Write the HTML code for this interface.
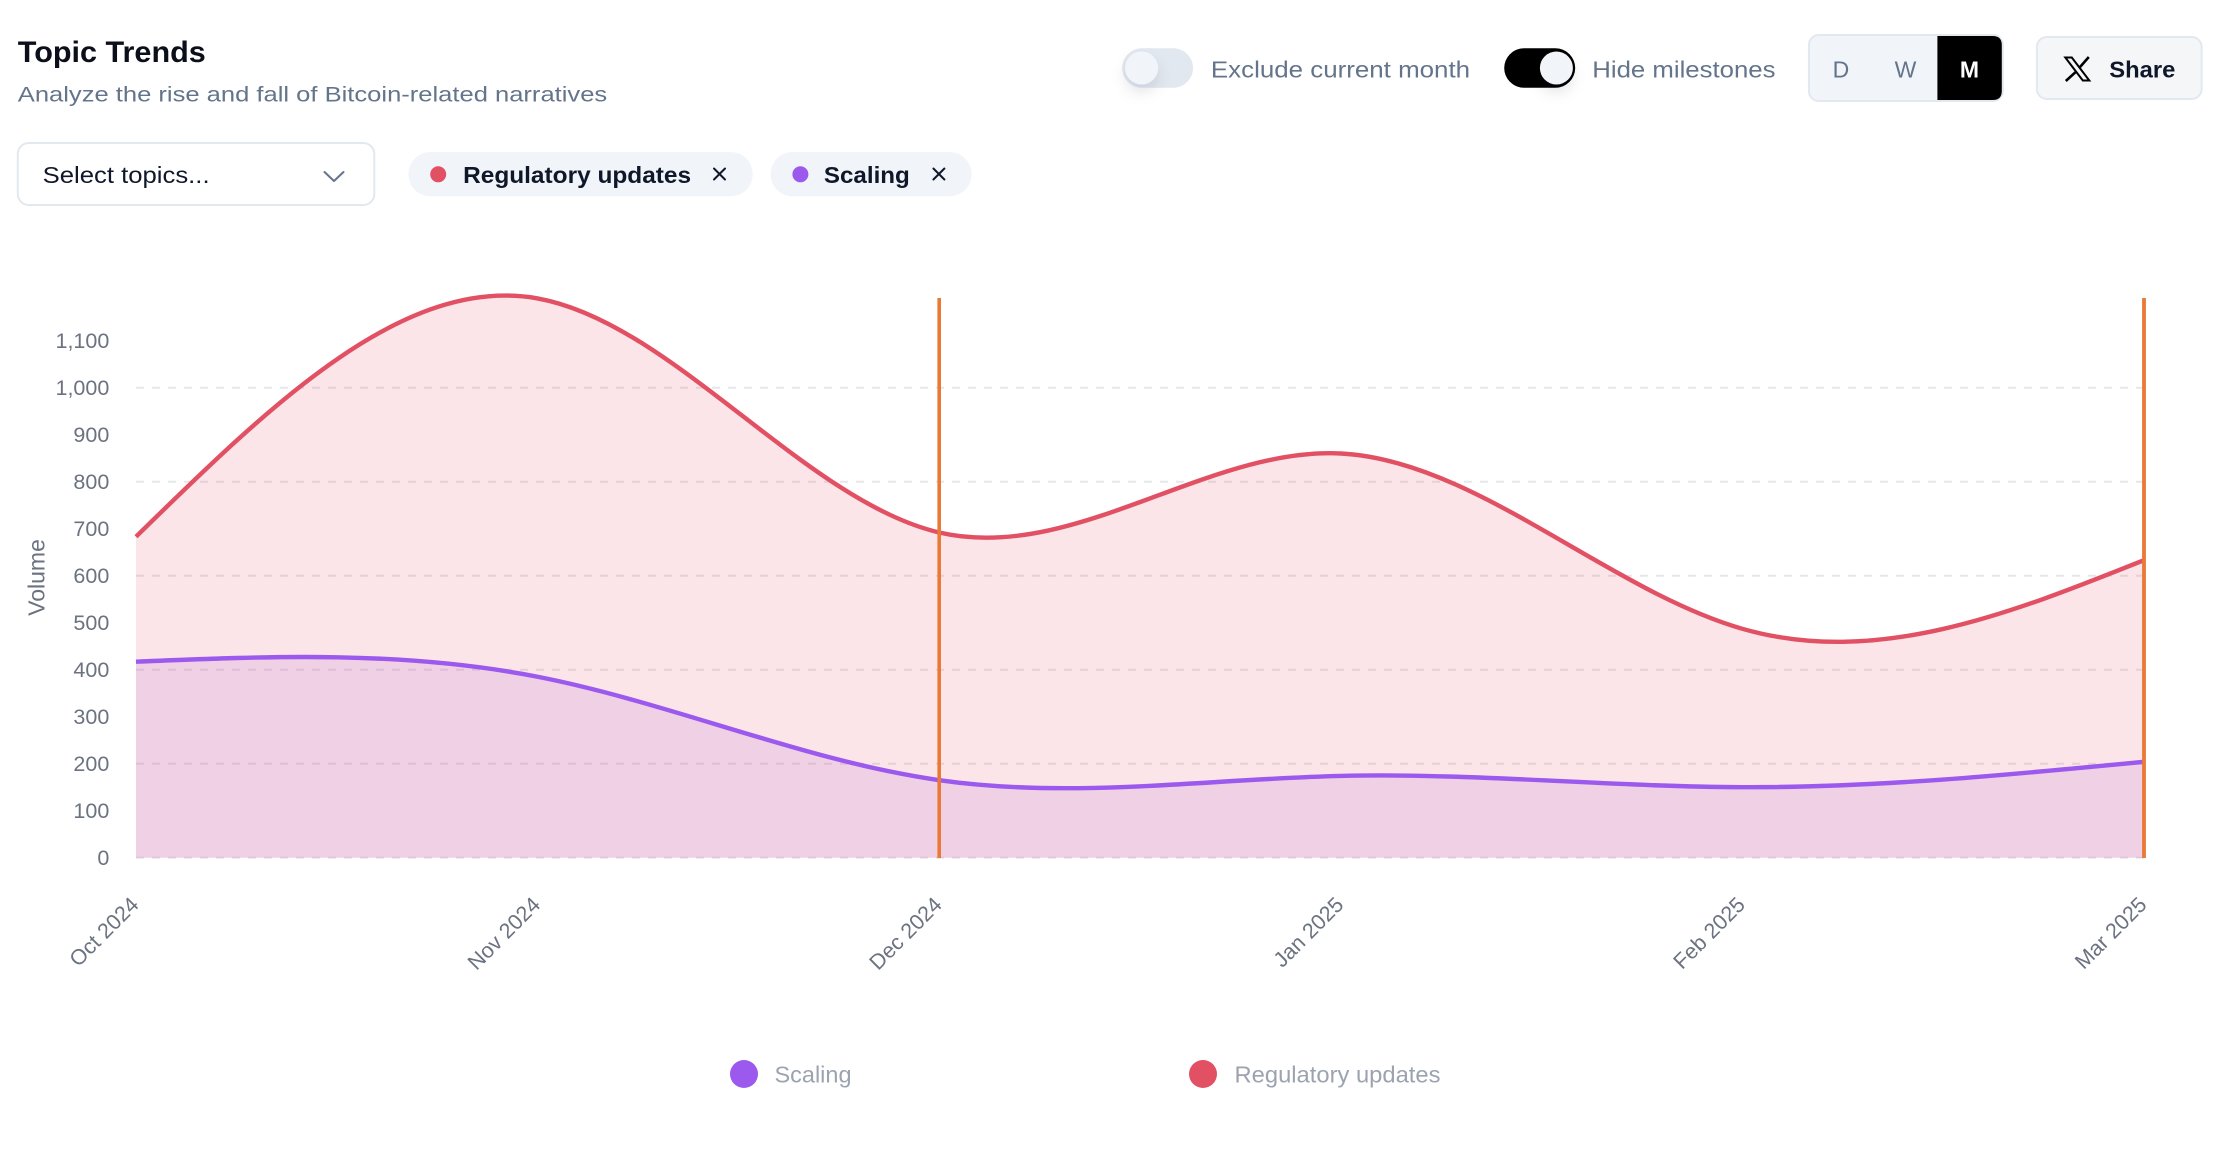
<!DOCTYPE html>
<html>
<head>
<meta charset="utf-8">
<style>
  html, body { margin: 0; padding: 0; background: #ffffff; }
  body { width: 2230px; height: 1160px; overflow: hidden; }
  svg { display: block; font-family: "Liberation Sans", Arial, sans-serif; }
</style>
</head>
<body>
<svg width="2230" height="1160" viewBox="0 0 2230 1160" xmlns="http://www.w3.org/2000/svg">
  <defs>
    <filter id="knobShadow" x="-100%" y="-100%" width="300%" height="300%">
      <feDropShadow dx="0" dy="8" stdDeviation="7" flood-color="#0f172a" flood-opacity="0.10"/>
    </filter>
  </defs>

  <!-- Header -->
  <text x="17.8" y="62" font-size="30" font-weight="700" fill="#0b0f19" textLength="188" lengthAdjust="spacingAndGlyphs">Topic Trends</text>
  <text x="17.8" y="101.7" font-size="21.5" fill="#64748b" textLength="589.4" lengthAdjust="spacingAndGlyphs">Analyze the rise and fall of Bitcoin-related narratives</text>

  <!-- Select -->
  <rect x="17.8" y="143" width="356.5" height="62" rx="11" fill="#ffffff" stroke="#e2e8f0" stroke-width="2"/>
  <text x="42.6" y="183" font-size="23" fill="#0f172a" textLength="167" lengthAdjust="spacingAndGlyphs">Select topics...</text>
  <polyline points="324.5,172 334,181 343.5,172" fill="none" stroke="#64748b" stroke-width="2" stroke-linecap="round" stroke-linejoin="round"/>

  <!-- Chip 1 -->
  <rect x="408.4" y="152" width="344.4" height="44.3" rx="22" fill="#f1f5f9"/>
  <circle cx="438.2" cy="174.3" r="8" fill="#e25063"/>
  <text x="463.1" y="183" font-size="23" font-weight="700" fill="#0f172a" textLength="228" lengthAdjust="spacingAndGlyphs">Regulatory updates</text>
  <path d="M714,168.5 L725,179.5 M725,168.5 L714,179.5" stroke="#0f172a" stroke-width="2" stroke-linecap="round"/>

  <!-- Chip 2 -->
  <rect x="770.6" y="152" width="201" height="44.3" rx="22" fill="#f1f5f9"/>
  <circle cx="800.4" cy="174.3" r="8" fill="#9b59ee"/>
  <text x="823.9" y="183" font-size="23" font-weight="700" fill="#0f172a" textLength="85.9" lengthAdjust="spacingAndGlyphs">Scaling</text>
  <path d="M933.4,168.5 L944.4,179.5 M944.4,168.5 L933.4,179.5" stroke="#0f172a" stroke-width="2" stroke-linecap="round"/>

  <!-- Toggle 1 (off) -->
  <rect x="1122.1" y="48.3" width="71" height="39.4" rx="19.7" fill="#e2e8f0"/>
  <circle cx="1141.6" cy="68" r="16.5" fill="#f1f5f9" filter="url(#knobShadow)"/>
  <text x="1210.9" y="77.3" font-size="23" fill="#64748b" textLength="259.2" lengthAdjust="spacingAndGlyphs">Exclude current month</text>

  <!-- Toggle 2 (on) -->
  <rect x="1504.2" y="48.3" width="71" height="39.4" rx="19.7" fill="#000000"/>
  <circle cx="1556.4" cy="68" r="16.5" fill="#f1f5f9" filter="url(#knobShadow)"/>
  <text x="1592.3" y="77.3" font-size="23" fill="#64748b" textLength="183.2" lengthAdjust="spacingAndGlyphs">Hide milestones</text>

  <!-- Segmented D/W/M -->
  <rect x="1808.9" y="35" width="193.9" height="66" rx="10" fill="#f1f5f9" stroke="#e2e8f0" stroke-width="2"/>
  <path d="M1937.4,36 L1992.8,36 Q2001.8,36 2001.8,45 L2001.8,91 Q2001.8,100 1992.8,100 L1937.4,100 Z" fill="#000000"/>
  <text x="1840.9" y="77.3" font-size="23" fill="#64748b" text-anchor="middle">D</text>
  <text x="1905.5" y="77.3" font-size="23" fill="#64748b" text-anchor="middle">W</text>
  <text x="1969.4" y="77.3" font-size="23" font-weight="700" fill="#ffffff" text-anchor="middle">M</text>

  <!-- Share -->
  <rect x="2036.9" y="37" width="164.7" height="62" rx="10" fill="#f5f6f8" stroke="#e2e8f0" stroke-width="2"/>
  <path d="M2065.3,57.5 L2071.8,57.5 L2089.3,80.5 L2082.8,80.5 Z" fill="none" stroke="#000" stroke-width="2" stroke-linejoin="miter"/>
  <path d="M2088.8,57 L2079.5,67.6 M2075.5,72.2 L2065.8,81" stroke="#000" stroke-width="2.6" stroke-linecap="butt"/>
  <text x="2109.3" y="77.3" font-size="23" font-weight="700" fill="#0f172a" textLength="66.1" lengthAdjust="spacingAndGlyphs">Share</text>

  <!-- Gridlines -->
  <g stroke="#e5e7eb" stroke-width="2" stroke-dasharray="8 8">
    <line x1="136" y1="387.7" x2="2144" y2="387.7"/>
    <line x1="136" y1="481.7" x2="2144" y2="481.7"/>
    <line x1="136" y1="575.7" x2="2144" y2="575.7"/>
    <line x1="136" y1="669.7" x2="2144" y2="669.7"/>
    <line x1="136" y1="763.7" x2="2144" y2="763.7"/>
    <line x1="136" y1="857.7" x2="2144" y2="857.7"/>
  </g>

  <!-- Y axis ticks -->
  <g font-size="21.5" fill="#6b7280" text-anchor="end">
    <text x="109.3" y="865.2">0</text>
    <text x="109.3" y="818.2">100</text>
    <text x="109.3" y="771.2">200</text>
    <text x="109.3" y="724.2">300</text>
    <text x="109.3" y="677.2">400</text>
    <text x="109.3" y="630.2">500</text>
    <text x="109.3" y="583.2">600</text>
    <text x="109.3" y="536.2">700</text>
    <text x="109.3" y="489.2">800</text>
    <text x="109.3" y="442.2">900</text>
    <text x="109.3" y="395.2">1,000</text>
    <text x="109.3" y="348.2">1,100</text>
  </g>
  <text x="44.5" y="577.5" font-size="23" fill="#6b7280" text-anchor="middle" transform="rotate(-90 44.5 577.5)">Volume</text>

  <!-- Areas -->
  <path d="M136,536.69 C269.87,405.57 403.73,274.45 537.6,298.4 C671.47,322.35 805.33,501.35 939.2,532.46 C1073.07,563.57 1206.93,446.78 1340.8,453.5 C1474.67,460.22 1608.53,590.44 1742.4,628.81 C1876.27,667.18 2010.13,613.68 2144,560.19 L2144,857.7 L136,857.7 Z" fill="#e25063" fill-opacity="0.15"/>
  <path d="M136,661.71 C269.87,656.10 403.73,650.49 537.6,676.75 C671.47,703.01 805.33,761.14 939.2,780.15 C1073.07,799.16 1206.93,779.03 1340.8,775.92 C1474.67,772.81 1608.53,786.72 1742.4,787.2 C1876.27,787.68 2010.13,774.75 2144,761.82 L2144,857.7 L136,857.7 Z" fill="#b659d8" fill-opacity="0.15"/>

  <!-- Lines -->
  <path d="M136,536.69 C269.87,405.57 403.73,274.45 537.6,298.4 C671.47,322.35 805.33,501.35 939.2,532.46 C1073.07,563.57 1206.93,446.78 1340.8,453.5 C1474.67,460.22 1608.53,590.44 1742.4,628.81 C1876.27,667.18 2010.13,613.68 2144,560.19" fill="none" stroke="#e25063" stroke-width="4.4"/>
  <path d="M136,661.71 C269.87,656.10 403.73,650.49 537.6,676.75 C671.47,703.01 805.33,761.14 939.2,780.15 C1073.07,799.16 1206.93,779.03 1340.8,775.92 C1474.67,772.81 1608.53,786.72 1742.4,787.2 C1876.27,787.68 2010.13,774.75 2144,761.82" fill="none" stroke="#9b59ee" stroke-width="4.4"/>

  <!-- Milestones -->
  <line x1="939.2" y1="298" x2="939.2" y2="858" stroke="#e97935" stroke-width="3.6"/>
  <line x1="2144" y1="298" x2="2144" y2="858" stroke="#e97935" stroke-width="3.8"/>

  <!-- X axis labels -->
  <g font-size="21.5" fill="#6b7280" text-anchor="end">
    <text x="140" y="906" transform="rotate(-45 140 906)">Oct 2024</text>
    <text x="541.6" y="906" transform="rotate(-45 541.6 906)">Nov 2024</text>
    <text x="943.2" y="906" transform="rotate(-45 943.2 906)">Dec 2024</text>
    <text x="1344.8" y="906" transform="rotate(-45 1344.8 906)">Jan 2025</text>
    <text x="1746.4" y="906" transform="rotate(-45 1746.4 906)">Feb 2025</text>
    <text x="2148" y="906" transform="rotate(-45 2148 906)">Mar 2025</text>
  </g>

  <!-- Legend -->
  <circle cx="744" cy="1074" r="14" fill="#9b59ee"/>
  <text x="774.5" y="1082.7" font-size="23.5" fill="#9ca3af" textLength="77" lengthAdjust="spacingAndGlyphs">Scaling</text>
  <circle cx="1203" cy="1074" r="14" fill="#e25063"/>
  <text x="1234.5" y="1082.7" font-size="23.5" fill="#9ca3af" textLength="206" lengthAdjust="spacingAndGlyphs">Regulatory updates</text>
</svg>
</body>
</html>
